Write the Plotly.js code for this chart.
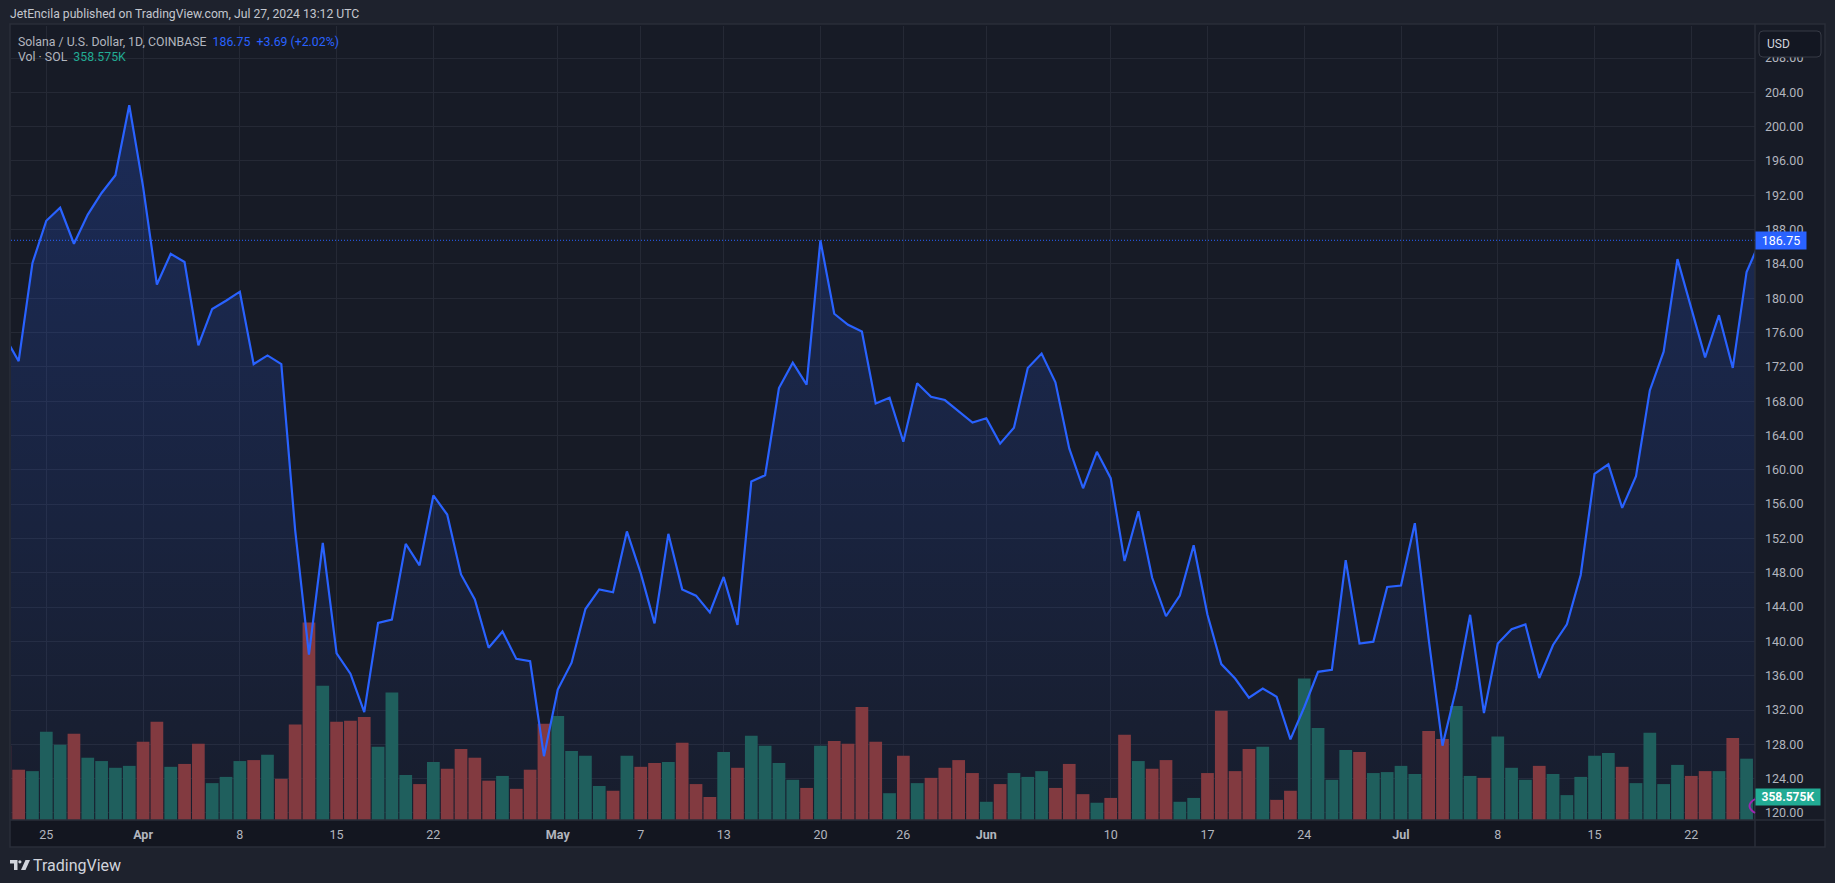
<!DOCTYPE html>
<html>
<head>
<meta charset="utf-8">
<script src="https://cdn.plot.ly/plotly-3.0.1.min.js"></script>
<style>
  html, body { margin: 0; padding: 0; background: #1e222d; }
  #chart { width: 1835px; height: 883px; }
</style>
</head>
<body>
<div id="chart"></div>
<script>
// ---------------- DATA ----------------
const firstDate = '2024-03-22';   // first daily close shown (partly clipped)

// SOL/USD daily closes, Mar 22 -> Jul 27 2024
const closeMar = [175.5, 172.66, 184.11, 189.03, 190.54, 186.35, 189.75, 192.27, 194.33, 202.49];
const closeApr = [193.0, 181.6, 185.17, 184.22, 174.5, 178.75, 179.7, 180.76, 172.32, 173.33,
                  172.32, 153.0, 138.46, 151.48, 138.6, 136.23, 131.76, 142.15, 142.54, 151.37,
                  148.86, 157.01, 154.78, 147.8, 144.89, 139.25, 141.15, 137.96, 137.68, 126.62];
const closeMay = [134.39, 137.52, 143.77, 146.06, 145.73, 152.82, 147.96, 142.1, 152.54, 146.06,
                  145.33, 143.38, 147.51, 141.93, 158.63, 159.36, 169.53, 172.49, 169.92, 186.74,
                  178.19, 176.9, 176.12, 167.74, 168.41, 163.27, 170.09, 168.52, 168.13, 166.85, 165.51];
const closeJun = [166.01, 163.05, 164.89, 171.87, 173.55, 170.2, 162.49, 157.85, 162.1, 159.03,
                  149.36, 155.17, 147.41, 142.93, 145.34, 151.2, 143.1, 137.35, 135.67, 133.44,
                  134.5, 133.55, 128.58, 132.32, 136.45, 136.68, 149.47, 139.75, 139.97, 146.34];
const closeJul = [146.51, 153.77, 140.3, 127.85, 134.55, 143.1, 131.65, 139.75, 141.42, 141.98,
                  135.73, 139.58, 141.98, 147.74, 159.53, 160.64, 155.56, 159.25, 169.25, 173.77,
                  184.56, 178.86, 173.1, 178.02, 171.87, 183.06, 186.75];

// Daily volume (thousand SOL), Mar 22 -> Jul 27 2024
const volMar = [1158, 784, 762, 1374, 1173, 1345, 971, 919, 814, 844];
const volApr = [1218, 1531, 829, 874, 1188, 575, 672, 919, 934, 1016,
                642, 1487, 3078, 2092, 1531, 1546, 1606, 1143, 1987, 702,
                560, 904, 799, 1106, 971, 613, 687, 486, 784, 1501];
const volMay = [1621, 1076, 1001, 530, 456, 1001, 829, 889, 904, 1203,
                560, 359, 1061, 814, 1315, 1158, 889, 627, 500, 1158,
                1233, 1188, 1763, 1218, 418, 1001, 575, 657, 814, 934, 732];
const volJun = [284, 560, 732, 672, 762, 500, 874, 403, 269, 344,
                1330, 919, 799, 934, 284, 344, 732, 1703, 762, 1106,
                1143, 314, 456, 2204, 1434, 627, 1091, 1061, 732, 747];
const volJul = [844, 717, 1389, 1262, 1778, 687, 657, 1300, 814, 627,
                844, 717, 388, 672, 1001, 1046, 829, 575, 1360, 560,
                859, 687, 762, 762, 1277, 956, 358.575];

// Time-axis ticks
const tickDates  = ['2024-03-25','2024-04-01','2024-04-08','2024-04-15','2024-04-22','2024-05-01',
                    '2024-05-07','2024-05-13','2024-05-20','2024-05-26','2024-06-01','2024-06-10',
                    '2024-06-17','2024-06-24','2024-07-01','2024-07-08','2024-07-15','2024-07-22'];
const tickLabels = ['25','Apr','8','15','22','May','7','13','20','26','Jun','10','17','24','Jul','8','15','22'];
const monthLabels = ['Apr','May','Jun','Jul'];

// Texts
const headerText = 'JetEncila published on TradingView.com, Jul 27, 2024 13:12 UTC';
const symbolText = 'Solana / U.S. Dollar, 1D, COINBASE';
const lastPriceText = '186.75';
const changeText = '+3.69 (+2.02%)';
const volTitle = 'Vol · SOL';
const lastVolText = '358.575K';
const lastPrice = 186.75;
const lastVol = 358.575;

// ---------------- BUILD ----------------
const closes = [].concat(closeMar, closeApr, closeMay, closeJun, closeJul);
const volumes = [].concat(volMar, volApr, volMay, volJun, volJul);
const dates = closes.map((_, i) => {
  const d = new Date(firstDate + 'T00:00:00Z');
  d.setUTCDate(d.getUTCDate() + i);
  return d.toISOString().slice(0, 10);
});
const UP = '#1f5f5d', DOWN = '#823a40';
const volColors = closes.map((c, i) => (i > 0 && c >= closes[i - 1]) ? UP : DOWN);

const W = 1835, H = 883;
const PL = 11, PR = 1755, PT = 26, PB = 820;
const px = x => (x - PL) / (PR - PL);
const py = y => (PB - y) / (PB - PT);

const priceRange = [119.18, 211.73];
const volRange = [0, 12378];
const font = 'Roboto, "Open Sans", sans-serif';
const BLUE = '#2962ff';

const traces = [
  { // area fill
    type: 'scatter', mode: 'none', x: dates, y: closes, xaxis: 'x', yaxis: 'y',
    fill: 'tozeroy',
    fillgradient: { type: 'vertical', start: priceRange[0], stop: priceRange[1],
      colorscale: [[0, 'rgba(41,98,255,0.03)'], [1, 'rgba(41,98,255,0.25)']] },
    hoverinfo: 'skip'
  },
  { // volume
    type: 'bar', x: dates, y: volumes, xaxis: 'x', yaxis: 'y2',
    marker: { color: volColors, line: { width: 0 } }, hoverinfo: 'skip'
  },
  { // price line
    type: 'scatter', mode: 'lines', x: dates, y: closes, xaxis: 'x', yaxis: 'y3',
    line: { color: BLUE, width: 2.2 }, hoverinfo: 'skip'
  }
];

function rrect(x0, y0, x1, y1, r) {
  const P = (x, y) => px(x) + ',' + py(y);
  return 'M' + P(x0 + r, y0) + ' L' + P(x1 - r, y0) + ' Q' + P(x1, y0) + ' ' + P(x1, y0 + r) +
         ' L' + P(x1, y1 - r) + ' Q' + P(x1, y1) + ' ' + P(x1 - r, y1) +
         ' L' + P(x0 + r, y1) + ' Q' + P(x0, y1) + ' ' + P(x0, y1 - r) +
         ' L' + P(x0, y0 + r) + ' Q' + P(x0, y0) + ' ' + P(x0 + r, y0) + ' Z';
}
function poly(pts) {
  return 'M' + pts.map(p => px(p[0]) + ',' + py(p[1])).join(' L') + ' Z';
}
const border = '#2a2e39';

const shapes = [
  // chart frame background
  { type: 'rect', xref: 'paper', yref: 'paper', x0: px(10), x1: px(1825), y0: py(24), y1: py(847),
    fillcolor: '#171b26', line: { width: 0 }, layer: 'below' },
  // time axis band
  { type: 'rect', xref: 'paper', yref: 'paper', x0: px(10), x1: px(1825), y0: py(820), y1: py(847),
    fillcolor: '#131620', line: { width: 0 }, layer: 'below' },
  // last price dotted line
  { type: 'line', xref: 'paper', yref: 'y', x0: 0, x1: 1, y0: lastPrice, y1: lastPrice,
    line: { color: BLUE, width: 1, dash: '1px,2px' }, layer: 'above' },
  // frame border
  { type: 'rect', xref: 'paper', yref: 'paper', x0: px(10), x1: px(1825), y0: py(24), y1: py(847),
    fillcolor: 'rgba(0,0,0,0)', line: { color: border, width: 1.5 }, layer: 'above' },
  { type: 'line', xref: 'paper', yref: 'paper', x0: px(1755), x1: px(1755), y0: py(24), y1: py(847),
    line: { color: border, width: 1.5 }, layer: 'above' },
  { type: 'line', xref: 'paper', yref: 'paper', x0: px(10), x1: px(1825), y0: py(820), y1: py(820),
    line: { color: border, width: 1.5 }, layer: 'above' },
  // USD box
  { type: 'path', xref: 'paper', yref: 'paper', path: rrect(1759, 31, 1821, 57, 4),
    fillcolor: '#131722', line: { color: '#363a45', width: 1 }, layer: 'above' },
  // event marker arc
  { type: 'path', xref: 'paper', yref: 'paper',
    path: 'M' + px(1755) + ',' + py(799) + ' Q' + px(1744) + ',' + py(806) + ' ' + px(1755) + ',' + py(813),
    line: { color: '#9c27b0', width: 2 }, layer: 'above' },
  // TradingView logo
  { type: 'path', xref: 'paper', yref: 'paper',
    path: poly([[10, 860], [17.5, 860], [17.5, 870], [14, 870], [14, 863.5], [10, 863.5]]),
    fillcolor: '#d1d4dc', line: { width: 0 }, layer: 'above' },
  { type: 'circle', xref: 'paper', yref: 'paper', x0: px(18.3), x1: px(21.5), y0: py(860.2), y1: py(863.4),
    fillcolor: '#d1d4dc', line: { width: 0 }, layer: 'above' },
  { type: 'path', xref: 'paper', yref: 'paper',
    path: poly([[25.5, 860], [30, 860], [25.5, 870], [21, 870]]),
    fillcolor: '#d1d4dc', line: { width: 0 }, layer: 'above' }
];

function txt(x, y, text, color, size, extra) {
  return Object.assign({ xref: 'paper', yref: 'paper', x: px(x), y: py(y), text: text,
    xanchor: 'left', yanchor: 'middle', showarrow: false,
    font: { family: font, size: size, color: color } }, extra || {});
}

const annotations = [
  txt(8, 14.5, headerText, '#c3c6ce', 12.2),
  txt(16, 41.5, symbolText + '&nbsp;&nbsp;<span style="color:' + BLUE + '">' + lastPriceText +
      '&nbsp;&nbsp;' + changeText + '</span>', '#b2b5be', 12.3),
  txt(16, 57, volTitle + '&nbsp;&nbsp;<span style="color:#22ab94">' + lastVolText + '</span>', '#b2b5be', 12.3),
  txt(1765, 44, 'USD', '#d1d4dc', 12),
  txt(31, 865.5, 'TradingView', '#d1d4dc', 16),
  { xref: 'paper', yref: 'y', x: 1, y: lastPrice, text: lastPriceText, xanchor: 'left', yanchor: 'middle',
    showarrow: false, bgcolor: BLUE, width: 50, height: 17, borderpad: 0, align: 'center',
    font: { family: font, size: 12.5, color: '#ffffff' } },
  { xref: 'paper', yref: 'y2', x: 1, y: lastVol, text: '<b>' + lastVolText + '</b>', xanchor: 'left', yanchor: 'middle',
    showarrow: false, bgcolor: '#22ab94', width: 64, height: 16, borderpad: 0, align: 'center',
    font: { family: font, size: 12, color: '#ffffff' } }
];

const layout = {
  width: W, height: H,
  paper_bgcolor: '#1e222d', plot_bgcolor: '#171b26',
  margin: { l: PL, r: W - PR, t: PT, b: H - PB, pad: 0 },
  showlegend: false, hovermode: false, bargap: 0.08,
  font: { family: font, color: '#b2b5be', size: 12 },
  xaxis: {
    type: 'date', range: ['2024-03-22 10:42', '2024-07-26 14:36'],
    tickmode: 'array', tickvals: tickDates,
    ticktext: tickLabels.map(t => monthLabels.includes(t) ? '<b>' + t + '</b>' : t),
    showgrid: true, gridcolor: '#252935', gridwidth: 1,
    ticks: '', showline: false, zeroline: false,
    tickfont: { family: font, size: 12.5, color: '#b2b5be' },
    ticklabelstandoff: 5, fixedrange: true
  },
  yaxis: {
    side: 'right', range: priceRange, tickmode: 'linear', tick0: 0, dtick: 4,
    tickformat: '.2f', showgrid: true, gridcolor: '#252935', gridwidth: 1,
    ticks: '', showline: false, zeroline: false,
    tickfont: { family: font, size: 12.5, color: '#b2b5be' },
    ticklabelstandoff: 9, fixedrange: true
  },
  yaxis2: { overlaying: 'y', range: volRange, visible: false, showgrid: false, zeroline: false, fixedrange: true },
  yaxis3: { overlaying: 'y', range: priceRange, visible: false, showgrid: false, zeroline: false, fixedrange: true },
  shapes: shapes,
  annotations: annotations
};

Plotly.newPlot('chart', traces, layout, { staticPlot: true, displayModeBar: false });
</script>
</body>
</html>
